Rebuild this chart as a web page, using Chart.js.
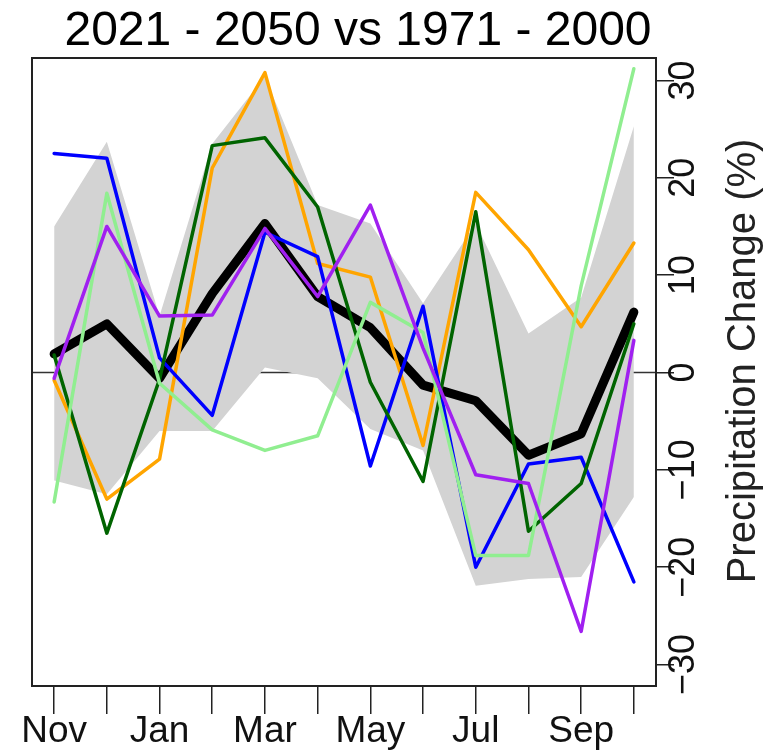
<!DOCTYPE html>
<html>
<head>
<meta charset="utf-8">
<script src="https://cdn.jsdelivr.net/npm/chart.js@4.4.1/dist/chart.umd.min.js"></script>
<style>
  html, body { margin: 0; padding: 0; background: #fff; }
  #wrap { width: 776px; height: 755px; }
</style>
</head>
<body>
<div id="wrap"><canvas id="c" width="776" height="755"></canvas></div>
<script>
// months from November to October
const months = ['Nov', 'Dec', 'Jan', 'Feb', 'Mar', 'Apr', 'May', 'Jun', 'Jul', 'Aug', 'Sep', 'Oct'];
const yTicks = [-30, -20, -10, 0, 10, 20, 30];

// ensemble mean and spread (percent change)
const ensMean  = [1.9, 5.0, -0.6, 8.1, 15.3, 7.8, 4.6, -1.3, -2.9, -8.5, -6.3, 6.2];
const bandHigh = [15.0, 23.7, 5.8, 23.5, 30.4, 17.2, 15.3, 7.1, 15.3, 4.0, 7.7, 25.3];
const bandLow  = [-11.1, -12.5, -6.0, -6.0, 0.5, -0.6, -5.8, -8.0, -21.9, -21.2, -21.0, -12.8];

// individual model runs
const orangeRun    = [-0.8, -13.0, -8.9, 21.0, 30.8, 11.2, 9.8, -7.5, 18.5, 12.6, 4.7, 13.3];
const blueRun      = [22.5, 22.0, 1.5, -4.4, 14.4, 11.9, -9.6, 6.8, -20.0, -9.4, -8.7, -21.5];
const darkGreenRun = [1.8, -16.5, -0.7, 23.3, 24.1, 17.0, -1.0, -11.2, 16.5, -16.3, -11.4, 5.0];
const lightGreenRun= [-13.3, 18.4, -1.1, -5.9, -8.0, -6.5, 7.2, 4.1, -18.8, -18.8, 8.9, 31.2];
const purpleRun    = [-0.6, 15.0, 5.8, 5.9, 14.8, 7.8, 17.2, 2.5, -10.5, -11.4, -26.6, 3.3];

const FONT = '"Liberation Sans", Arial, Helvetica, sans-serif';
const pts = arr => arr.map((v, i) => ({ x: i, y: v }));

function runLine(vals, color, order) {
  return {
    data: pts(vals),
    borderColor: color,
    borderWidth: 3.5,
    pointRadius: 0,
    fill: false,
    tension: 0,
    borderJoinStyle: 'round',
    borderCapStyle: 'round',
    order: order
  };
}

// frame, zero line, title and right axis title
const decorations = {
  id: 'decorations',
  beforeDatasetsDraw(chart) {
    const { ctx, chartArea: a, scales: { y } } = chart;
    ctx.save();
    ctx.beginPath();
    const y0 = y.getPixelForValue(0);
    ctx.moveTo(a.left, y0);
    ctx.lineTo(a.right, y0);
    ctx.lineWidth = 1.5;
    ctx.strokeStyle = '#333';
    ctx.stroke();
    ctx.restore();
  },
  afterDraw(chart) {
    const { ctx, chartArea: a } = chart;
    ctx.save();
    ctx.lineWidth = 2;
    ctx.strokeStyle = '#222';
    ctx.strokeRect(a.left, a.top, a.right - a.left, a.bottom - a.top);

    ctx.fillStyle = '#000';
    ctx.font = '48px ' + FONT;
    ctx.textAlign = 'center';
    ctx.textBaseline = 'middle';
    ctx.fillText('2021 - 2050 vs 1971 - 2000', 358, 32);

    ctx.translate(744, 361);
    ctx.rotate(-Math.PI / 2);
    ctx.fillStyle = '#222';
    ctx.font = '40px ' + FONT;
    ctx.fillText('Precipitation Change (%)', 0, 0);
    ctx.restore();
  }
};

new Chart(document.getElementById('c'), {
  type: 'line',
  data: {
    datasets: [
      { data: pts(bandHigh), borderWidth: 0, pointRadius: 0, backgroundColor: '#d3d3d3', fill: '+1', tension: 0, order: 10 },
      { data: pts(bandLow), borderWidth: 0, pointRadius: 0, fill: false, tension: 0, order: 11 },
      { data: pts(ensMean), borderColor: '#000', borderWidth: 9, pointRadius: 0, fill: false, tension: 0,
        borderJoinStyle: 'round', borderCapStyle: 'round', order: 9 },
      runLine(orangeRun, '#ffa500', 6),
      runLine(blueRun, '#0000ff', 5),
      runLine(darkGreenRun, '#006400', 4),
      runLine(lightGreenRun, '#90ee90', 3),
      runLine(purpleRun, '#a020f0', 2)
    ]
  },
  options: {
    responsive: false,
    animation: false,
    layout: { padding: { left: 32, top: 58, right: 0, bottom: 0 } },
    plugins: {
      legend: { display: false },
      tooltip: { enabled: false },
      title: { display: false }
    },
    scales: {
      x: {
        type: 'linear',
        min: -0.42,
        max: 11.42,
        afterBuildTicks: s => { s.ticks = months.map((m, i) => ({ value: i })); },
        afterFit: s => { s.height = 69; },
        grid: { drawOnChartArea: false, drawTicks: true, tickLength: 28, color: '#222', lineWidth: 1.5 },
        border: { display: false },
        ticks: {
          autoSkip: false,
          maxRotation: 0,
          padding: -4,
          color: '#111',
          font: { family: FONT, size: 37 },
          callback: v => (v % 2 === 0 ? months[v] : '')
        }
      },
      y: {
        position: 'right',
        min: -32.2,
        max: 32.3,
        afterBuildTicks: s => { s.ticks = yTicks.map(v => ({ value: v })); },
        afterFit: s => { s.width = 120; },
        grid: { drawOnChartArea: false, drawTicks: true, tickLength: 18, color: '#222', lineWidth: 1.5 },
        border: { display: false },
        ticks: {
          minRotation: 90,
          maxRotation: 90,
          crossAlign: 'center',
          padding: -20,
          color: '#111',
          font: { family: FONT, size: 36 },
          callback: v => String(v).replace('-', '\u2212')
        }
      }
    }
  },
  plugins: [decorations]
});
</script>
</body>
</html>
